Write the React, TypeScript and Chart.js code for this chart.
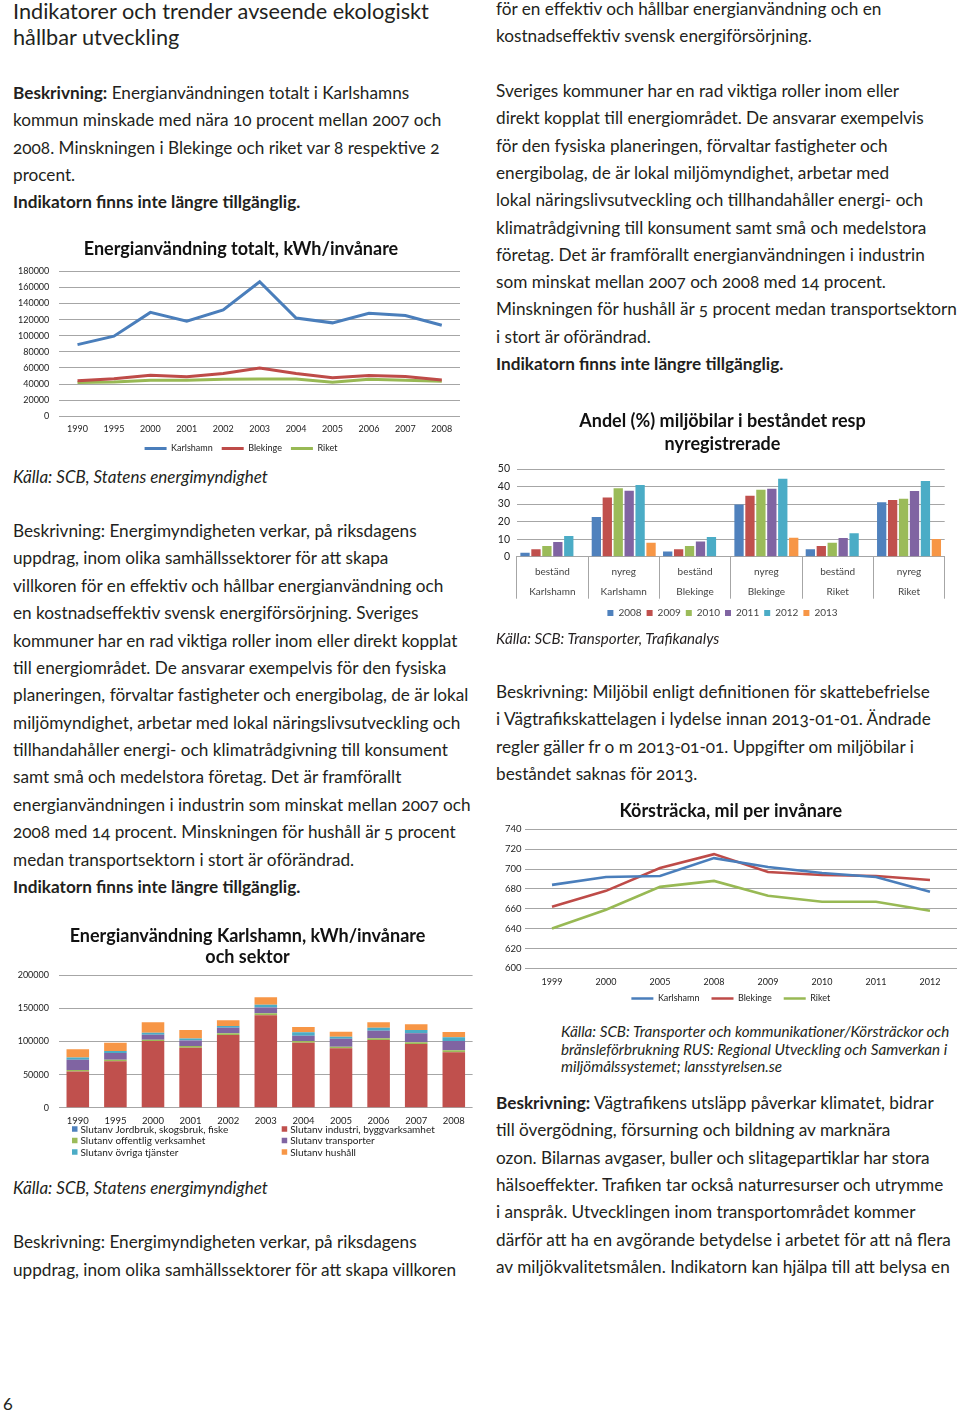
import React, { useEffect, useRef } from "react";
import { Chart, registerables } from "chart.js";
Chart.register(...registerables);

/* ---------- Chart 1: Energianvändning totalt ---------- */
const years1 = ["1990", "1995", "2000", "2001", "2002", "2003", "2004", "2005", "2006", "2007", "2008"];
const karlshamnTotal = [89000, 99500, 129000, 118000, 132000, 167000, 122000, 116000, 128000, 125000, 113000];
const blekingeTotal = [44000, 46500, 51000, 49000, 53000, 60000, 53000, 48000, 50500, 49500, 45000];
const riketTotal = [42000, 42600, 44700, 44700, 45900, 46300, 46300, 42200, 45900, 44700, 43400];

/* ---------- Chart 2: Energianvändning Karlshamn per sektor ---------- */
const sectorNames = [
  "Slutanv Jordbruk, skogsbruk, fiske",
  "Slutanv industri, byggvarksamhet",
  "Slutanv offentlig verksamhet",
  "Slutanv transporter",
  "Slutanv övriga tjänster",
  "Slutanv hushåll",
];
const sectorJordbruk = [800, 800, 800, 800, 800, 800, 800, 800, 800, 800, 800];
const sectorIndustri = [54000, 69500, 100000, 89800, 109000, 139000, 97400, 88900, 101500, 95400, 82900];
const sectorOffentlig = [2000, 2200, 2000, 2500, 2500, 3000, 2500, 2500, 2500, 2500, 3000];
const sectorTransport = [15500, 10000, 7500, 8600, 8600, 8600, 8100, 12100, 11600, 13600, 14100];
const sectorOvriga = [3500, 3000, 3000, 3000, 2500, 4000, 5000, 3000, 4500, 5000, 5500];
const sectorHushall = [12500, 12800, 15800, 12600, 8600, 11600, 8100, 7600, 8100, 8600, 8100];

/* ---------- Chart 3: Andel miljöbilar ---------- */
const carYears = ["2008", "2009", "2010", "2011", "2012", "2013"];
const carMeasures = ["beständ", "nyreg", "beständ", "nyreg", "beständ", "nyreg"];
const carRegions = ["Karlshamn", "Karlshamn", "Blekinge", "Blekinge", "Riket", "Riket"];
const share2008 = [2.3, 22.6, 2.9, 29.7, 4.2, 31.0];
const share2009 = [4.2, 33.7, 4.2, 34.8, 6.1, 32.3];
const share2010 = [6.1, 39.0, 6.1, 38.2, 8.0, 33.1];
const share2011 = [8.4, 37.6, 8.7, 38.8, 10.6, 37.5];
const share2012 = [11.8, 40.9, 11.2, 44.5, 13.3, 43.2];
const share2013 = [null, 8.0, null, 10.8, null, 10.1];

/* ---------- Chart 4: Körsträcka ---------- */
const kmYears = ["1999", "2000", "2005", "2008", "2009", "2010", "2011", "2012"];
const kmKarlshamn = [684, 692, 693, 711, 702, 696, 692, 677];
const kmBlekinge = [662, 678, 701, 715, 697, 694, 693, 689];
const kmRiket = [640, 659, 682, 688, 673, 667, 667, 658];

/* ---------- page text ---------- */
const leftTitle = ["Indikatorer och trender avseende ekologiskt", "hållbar utveckling"];
const blockA = [
  "**Beskrivning:** Energianvändningen totalt i Karlshamns",
  "kommun minskade med nära 10 procent mellan 2007 och",
  "2008. Minskningen i Blekinge och riket var 8 respektive 2",
  "procent.",
  "**Indikatorn finns inte längre tillgänglig.**",
];
const sourceEnergy = "Källa: SCB, Statens energimyndighet";
const blockC = [
  "Beskrivning: Energimyndigheten verkar, på riksdagens",
  "uppdrag, inom olika samhällssektorer för att skapa",
  "villkoren för en effektiv och hållbar energianvändning och",
  "en kostnadseffektiv svensk energiförsörjning. Sveriges",
  "kommuner har en rad viktiga roller inom eller direkt kopplat",
  "till energiområdet. De ansvarar exempelvis för den fysiska",
  "planeringen, förvaltar fastigheter och energibolag, de är lokal",
  "miljömyndighet, arbetar med lokal näringslivsutveckling och",
  "tillhandahåller energi- och klimatrådgivning till konsument",
  "samt små och medelstora företag. Det är framförallt",
  "energianvändningen i industrin som minskat mellan 2007 och",
  "2008 med 14 procent. Minskningen för hushåll är 5 procent",
  "medan transportsektorn i stort är oförändrad.",
  "**Indikatorn finns inte längre tillgänglig.**",
];
const blockE = [
  "Beskrivning: Energimyndigheten verkar, på riksdagens",
  "uppdrag, inom olika samhällssektorer för att skapa villkoren",
];
const blockF = [
  "för en effektiv och hållbar energianvändning och en",
  "kostnadseffektiv svensk energiförsörjning.",
];
const blockG = [
  "Sveriges kommuner har en rad viktiga roller inom eller",
  "direkt kopplat till energiområdet. De ansvarar exempelvis",
  "för den fysiska planeringen, förvaltar fastigheter och",
  "energibolag, de är lokal miljömyndighet, arbetar med",
  "lokal näringslivsutveckling och tillhandahåller energi- och",
  "klimatrådgivning till konsument samt små och medelstora",
  "företag. Det är framförallt energianvändningen i industrin",
  "som minskat mellan 2007 och 2008 med 14 procent.",
  "Minskningen för hushåll är 5 procent medan transportsektorn",
  "i stort är oförändrad.",
  "**Indikatorn finns inte längre tillgänglig.**",
];
const sourceCars = "Källa: SCB: Transporter, Trafikanalys";
const blockI = [
  "Beskrivning: Miljöbil enligt definitionen för skattebefrielse",
  "i Vägtrafikskattelagen i lydelse innan 2013-01-01. Ändrade",
  "regler gäller fr o m 2013-01-01. Uppgifter om miljöbilar i",
  "beståndet saknas för 2013.",
];
const sourceKm = [
  "Källa: SCB: Transporter och kommunikationer/Körsträckor och",
  "bränsleförbrukning RUS: Regional Utveckling och Samverkan i",
  "miljömålssystemet; lansstyrelsen.se",
];
const blockK = [
  "**Beskrivning:** Vägtrafikens utsläpp påverkar klimatet, bidrar",
  "till övergödning, försurning och bildning av marknära",
  "ozon. Bilarnas avgaser, buller och slitagepartiklar har stora",
  "hälsoeffekter. Trafiken tar också naturresurser och utrymme",
  "i anspråk. Utvecklingen inom transportområdet kommer",
  "därför att ha en avgörande betydelse i arbetet för att nå flera",
  "av miljökvalitetsmålen. Indikatorn kan hjälpa till att belysa en",
];

const FONT = "Lato, 'Open Sans', sans-serif";
const TEXT = "#231f20";
const BLUE = "#4A7EBB";
const RED = "#BE4B48";
const GREEN = "#98B954";
const GRID = "#a6a6a6";
const TICK = "#222";

// fix axis box sizes; tick labels may extend outside the box (no clipping)
function fixW(w: number) {
  return (s: any) => {
    s.width = w;
    s._computeLabelArea = () => undefined;
  };
}
function fixH(h: number) {
  return (s: any) => {
    s.height = h;
    s._computeLabelArea = () => undefined;
  };
}
const plain = (v: any) => String(v);

const gridLegend = {
  id: "gridLegend",
  afterDraw(chart: any, _args: any, opts: any) {
    if (!opts || !opts.columns) return;
    const ctx = chart.ctx;
    ctx.save();
    ctx.font = `${opts.size}px ${FONT}`;
    ctx.textBaseline = "middle";
    ctx.textAlign = "left";
    chart.data.datasets.forEach((ds: any, i: number) => {
      const nc = opts.columns.length;
      const x = opts.columns[i % nc];
      const y = opts.top + Math.floor(i / nc) * opts.rowHeight;
      ctx.fillStyle = ds.backgroundColor;
      ctx.fillRect(x, y - opts.box / 2, opts.box, opts.box);
      ctx.fillStyle = opts.color;
      ctx.fillText(ds.label, x + opts.box + 3, y + 0.5);
    });
    ctx.restore();
  },
};

function ChartBox({ left, top, width, height, make }: any) {
  const ref = useRef<HTMLCanvasElement>(null);
  useEffect(() => {
    const c = new Chart(ref.current as HTMLCanvasElement, make());
    return () => c.destroy();
  }, []);
  return (
    <canvas
      ref={ref}
      width={width}
      height={height}
      style={{ position: "absolute", left, top, width, height }}
    />
  );
}

function Segs({ text }: { text: string }) {
  const parts = text.split("**");
  return (
    <>
      {parts.map((p, i) =>
        i % 2 === 1 ? (
          <b key={i} style={{ fontWeight: 700 }}>
            {p}
          </b>
        ) : (
          <span key={i}>{p}</span>
        )
      )}
    </>
  );
}

function Block({ x, y0, step, lines, size, italic, weight, color }: any) {
  const lh = 24;
  return (
    <>
      {lines.map((t: string, i: number) => (
        <div
          key={i}
          style={{
            position: "absolute",
            left: x,
            top: y0 + i * step - lh / 2,
            height: lh,
            lineHeight: lh + "px",
            fontSize: size,
            fontFamily: FONT,
            fontStyle: italic ? "italic" : "normal",
            fontWeight: weight || 400,
            color: color || TEXT,
            whiteSpace: "nowrap",
            fontVariantNumeric: "oldstyle-nums",
          }}
        >
          <Segs text={t} />
        </div>
      ))}
    </>
  );
}

const tickFont = (size: number, extra: any = {}) => ({ family: FONT, size, ...extra });

function makeChart1(): any {
  return {
    type: "line",
    data: {
      labels: years1,
      datasets: [
        { label: "Karlshamn", data: karlshamnTotal, borderColor: BLUE, backgroundColor: BLUE },
        { label: "Blekinge", data: blekingeTotal, borderColor: RED, backgroundColor: RED },
        { label: "Riket", data: riketTotal, borderColor: GREEN, backgroundColor: GREEN },
      ].map((d) => ({ ...d, borderWidth: 3, pointRadius: 0, tension: 0 })),
    },
    options: {
      responsive: false,
      animation: false,
      layout: { padding: { left: 22, right: 10, top: 0, bottom: 0 } },
      plugins: {
        title: {
          display: true,
          text: "Energianvändning totalt, kWh/invånare",
          font: { family: FONT, size: 18, weight: "bold", lineHeight: 1.2 },
          color: "#111",
          padding: { top: 6.2, bottom: 11.5 },
        },
        legend: {
          position: "bottom",
          labels: {
            usePointStyle: true,
            pointStyle: "line",
            pointStyleWidth: 22,
            font: tickFont(9),
            color: TICK,
            padding: 9,
          },
        },
        tooltip: { enabled: false },
      },
      scales: {
        x: {
          offset: true,
          grid: { display: false, drawTicks: false },
          border: { display: false },
          ticks: { font: tickFont(9), color: TICK, padding: 7.3, maxRotation: 0 },
          afterFit: fixH(18.7),
        },
        y: {
          min: 0,
          max: 180000,
          ticks: { stepSize: 20000, font: tickFont(9), color: TICK, padding: 10, callback: plain },
          grid: { color: GRID, drawTicks: false },
          border: { display: false },
          afterFit: fixW(37.3),
        },
      },
    },
  };
}

function makeChart2(): any {
  const cols = ["#4F81BD", "#C0504D", "#9BBB59", "#8064A2", "#4BACC6", "#F79646"];
  const series = [sectorJordbruk, sectorIndustri, sectorOffentlig, sectorTransport, sectorOvriga, sectorHushall];
  return {
    type: "bar",
    data: {
      labels: years1,
      datasets: series.map((d, i) => ({
        label: sectorNames[i],
        data: d,
        backgroundColor: cols[i],
        barPercentage: 0.6,
        categoryPercentage: 1,
      })),
    },
    plugins: [gridLegend],
    options: {
      responsive: false,
      animation: false,
      layout: { padding: { left: 22.4, right: 7.4, top: 0, bottom: 32.3 } },
      plugins: {
        title: {
          display: true,
          text: ["Energianvändning Karlshamn, kWh/invånare", "och sektor"],
          font: { family: FONT, size: 18, weight: "bold", lineHeight: 1.156 },
          color: "#111",
          padding: { top: 3.6, bottom: 8.1 },
        },
        legend: { display: false },
        tooltip: { enabled: false },
        gridLegend: { columns: [72, 281.7], top: 207, rowHeight: 11.5, box: 5.5, size: 10, color: TICK },
      },
      scales: {
        x: {
          stacked: true,
          grid: { display: false, drawTicks: false },
          border: { display: false },
          ticks: { font: tickFont(9.5), color: TICK, padding: 7.6, maxRotation: 0, autoSkip: false },
          afterFit: fixH(20),
        },
        y: {
          stacked: true,
          min: 0,
          max: 200000,
          ticks: { stepSize: 50000, font: tickFont(9), color: TICK, padding: 10, callback: plain },
          grid: { color: GRID, drawTicks: false },
          border: { display: false },
          afterFit: fixW(36.6),
        },
      },
    },
  };
}

function makeChart3(): any {
  const cols = ["#4F81BD", "#C0504D", "#9BBB59", "#8064A2", "#4BACC6", "#F79646"];
  const series = [share2008, share2009, share2010, share2011, share2012, share2013];
  return {
    type: "bar",
    data: {
      labels: carMeasures.map((m, i) => [m, carRegions[i]]),
      datasets: series.map((d, i) => ({
        label: carYears[i],
        data: d,
        backgroundColor: cols[i],
        barPercentage: 0.85,
        categoryPercentage: 0.92,
      })),
    },
    options: {
      responsive: false,
      animation: false,
      layout: { padding: { left: 10.3, right: 10.3, top: 0, bottom: 0 } },
      plugins: {
        title: {
          display: true,
          text: ["Andel (%) miljöbilar i beståndet resp", "nyregistrerade"],
          font: { family: FONT, size: 18, weight: "bold", lineHeight: 1.278 },
          color: "#111",
          padding: { top: 4.5, bottom: 13.5 },
        },
        legend: {
          position: "bottom",
          labels: { boxWidth: 6, boxHeight: 6, font: tickFont(10), color: "#444", padding: 5 },
        },
        tooltip: { enabled: false },
      },
      scales: {
        x: {
          grid: { display: true, drawOnChartArea: false, drawTicks: true, tickLength: 42, color: GRID, offset: true },
          border: { display: true, color: GRID },
          ticks: {
            font: tickFont(10, { lineHeight: 2.03 }),
            color: "#444",
            padding: -37,
            maxRotation: 0,
            autoSkip: false,
          },
          afterFit: fixH(46.3),
        },
        y: {
          min: 0,
          max: 50,
          ticks: { stepSize: 10, font: tickFont(10.5), color: TICK, padding: 6.7 },
          grid: { color: GRID, drawTicks: false },
          border: { display: false },
          afterFit: fixW(16.4),
        },
      },
    },
  };
}

function makeChart4(): any {
  return {
    type: "line",
    data: {
      labels: kmYears,
      datasets: [
        { label: "Karlshamn", data: kmKarlshamn, borderColor: BLUE, backgroundColor: BLUE },
        { label: "Blekinge", data: kmBlekinge, borderColor: RED, backgroundColor: RED },
        { label: "Riket", data: kmRiket, borderColor: GREEN, backgroundColor: GREEN },
      ].map((d) => ({ ...d, borderWidth: 2.6, pointRadius: 0, tension: 0 })),
    },
    options: {
      responsive: false,
      animation: false,
      layout: { padding: { left: 14.6, right: 3, top: 0, bottom: 0 } },
      plugins: {
        title: {
          display: true,
          text: "Körsträcka, mil per invånare",
          font: { family: FONT, size: 18, weight: "bold", lineHeight: 1.2 },
          color: "#111",
          padding: { top: 3.2, bottom: 7.5 },
        },
        legend: {
          position: "bottom",
          labels: {
            usePointStyle: true,
            pointStyle: "line",
            pointStyleWidth: 22,
            font: tickFont(9),
            color: TICK,
            padding: 12,
          },
        },
        tooltip: { enabled: false },
      },
      scales: {
        x: {
          offset: true,
          grid: { display: false, drawTicks: false },
          border: { display: false },
          ticks: { font: tickFont(9), color: TICK, padding: 8.3, maxRotation: 0 },
          afterFit: fixH(13.7),
        },
        y: {
          min: 600,
          max: 740,
          ticks: { stepSize: 20, font: tickFont(9.5), color: TICK, padding: 3.5 },
          grid: { color: GRID, drawTicks: false },
          border: { display: false },
          afterFit: fixW(20.4),
        },
      },
    },
  };
}

export default function App() {
  return (
    <div
      style={{
        position: "absolute",
        left: 0,
        top: 0,
        width: 960,
        height: 1414,
        background: "#fff",
        overflow: "hidden",
        fontFamily: FONT,
      }}
    >
      {/* left column */}
      <Block x={13} y0={11} step={26} lines={leftTitle} size={21.7} />
      <Block x={13} y0={93} step={27.3} lines={blockA} size={17.2} />
      <ChartBox left={0} top={232} width={470} height={231} make={makeChart1} />
      <Block x={13} y0={477} step={27} lines={[sourceEnergy]} size={17} italic />
      <Block x={13} y0={531} step={27.38} lines={blockC} size={17.2} />
      <ChartBox left={0} top={922} width={480} height={238} make={makeChart2} />
      <Block x={13} y0={1188} step={27} lines={[sourceEnergy]} size={17} italic />
      <Block x={13} y0={1242} step={27.5} lines={blockE} size={17.2} />
      <Block x={3} y0={1403} step={27} lines={["6"]} size={18} />

      {/* right column */}
      <Block x={496} y0={9} step={27} lines={blockF} size={17.2} />
      <Block x={496} y0={91} step={27.3} lines={blockG} size={17.2} />
      <ChartBox left={490} top={405} width={465} height={223} make={makeChart3} />
      <Block x={496} y0={638} step={27} lines={[sourceCars]} size={15.1} italic />
      <Block x={496} y0={692} step={27.3} lines={blockI} size={17.2} />
      <ChartBox left={490} top={797} width={470} height={216} make={makeChart4} />
      <Block x={561} y0={1031} step={17.5} lines={sourceKm} size={15.2} italic />
      <Block x={496} y0={1103} step={27.33} lines={blockK} size={17.2} />
    </div>
  );
}
